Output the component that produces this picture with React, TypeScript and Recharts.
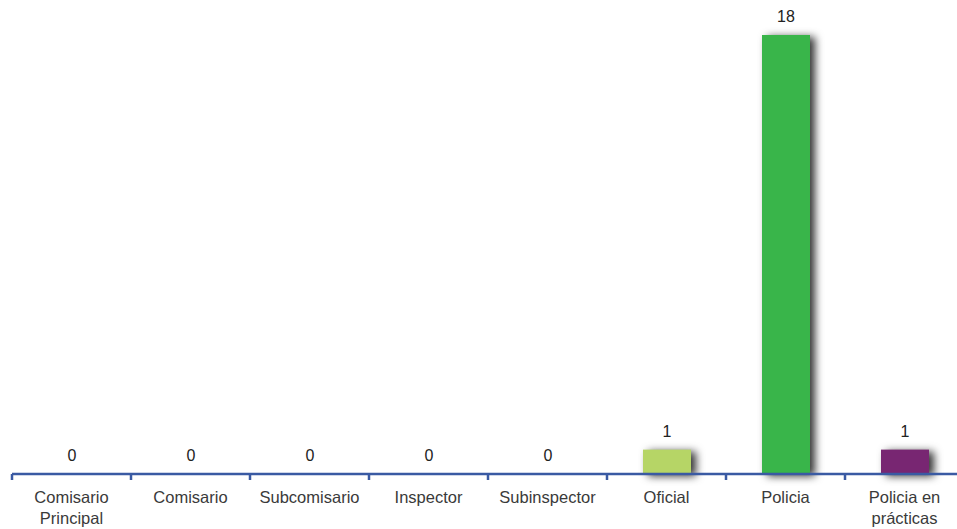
import { BarChart, Bar, XAxis, YAxis, Cell, LabelList } from "recharts";

const categories = [
  "Comisario Principal",
  "Comisario",
  "Subcomisario",
  "Inspector",
  "Subinspector",
  "Oficial",
  "Policia",
  "Policia en prácticas",
];

const tickLines: string[][] = [
  ["Comisario", "Principal"],
  ["Comisario"],
  ["Subcomisario"],
  ["Inspector"],
  ["Subinspector"],
  ["Oficial"],
  ["Policia"],
  ["Policia en", "prácticas"],
];

const counts = [0, 0, 0, 0, 0, 1, 18, 1];

const barColors = ["#b6d566", "#b6d566", "#b6d566", "#b6d566", "#b6d566", "#b6d566", "#39b54a", "#782672"];

const data = categories.map((name, i) => ({ name, value: counts[i] }));

const AXIS_BLUE = "#3a5aa3";
const FONT = "'Liberation Sans', Arial, sans-serif";
const TICK_SIZE = 6;
const TICK_MARGIN = 2;

// label plus a blue tick mark on the category boundary (left edge, and right edge for the last one)
function WrappedTick(props: any) {
  const { x, y, index, payload } = props;
  const lines = tickLines[index] || [];
  const half = payload?.offset || 0;
  const axisY = y - TICK_SIZE - TICK_MARGIN;
  const marks = [x - half];
  if (index === categories.length - 1) marks.push(x + half);
  return (
    <g>
      {marks.map((mx, i) => (
        <line key={i} x1={mx} x2={mx} y1={axisY} y2={axisY + TICK_SIZE} stroke={AXIS_BLUE} strokeWidth={2.5} />
      ))}
      <text x={x} y={y} textAnchor="middle" fill="#3a3a3a" fontSize={16.5} fontFamily={FONT}>
        {lines.map((line, i) => (
          <tspan key={i} x={x} dy={21}>
            {line}
          </tspan>
        ))}
      </text>
    </g>
  );
}

function ShadowBar(props: any) {
  const { x, y, width, height, fill } = props;
  if (!height || height <= 0) return null;
  return (
    <rect
      x={x}
      y={y}
      width={width}
      height={height}
      fill={fill}
      style={{ filter: "drop-shadow(5px 2px 4px rgba(0,0,0,0.8))" }}
    />
  );
}

export default function App() {
  return (
    <div style={{ position: "absolute", left: 0, top: 0, width: 957, height: 529, overflow: "hidden", background: "#fff" }}>
      <BarChart
        width={970}
        height={529}
        data={data}
        margin={{ top: 35, right: 6, left: 12, bottom: 0 }}
      >
        <YAxis hide domain={[0, 18]} />
        <XAxis
          dataKey="name"
          interval={0}
          axisLine={{ stroke: AXIS_BLUE, strokeWidth: 2.5 }}
          tickLine={false}
          tickSize={TICK_SIZE}
          tickMargin={TICK_MARGIN}
          height={55}
          tick={<WrappedTick />}
        />
        <Bar dataKey="value" isAnimationActive={false} shape={<ShadowBar />} barSize={48}>
          {data.map((d, i) => (
            <Cell key={d.name} fill={barColors[i]} />
          ))}
          <LabelList
            dataKey="value"
            position="top"
            offset={13}
            fill="#222"
            fontSize={16}
            fontFamily={FONT}
          />
        </Bar>
      </BarChart>
    </div>
  );
}
